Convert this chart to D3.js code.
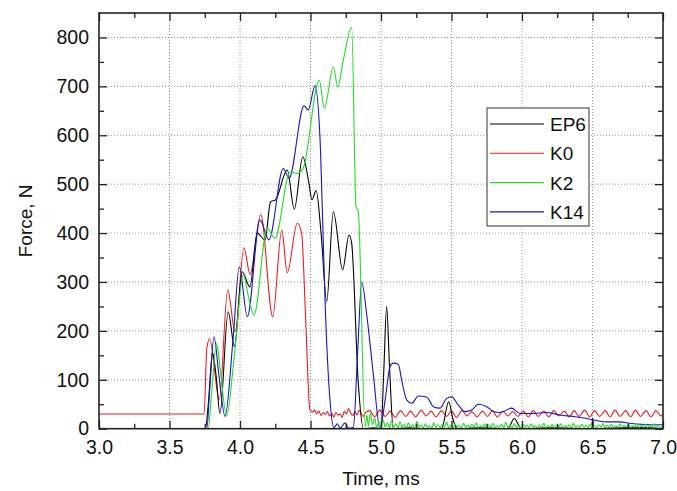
<!DOCTYPE html>
<html><head><meta charset="utf-8">
<script src="https://cdn.jsdelivr.net/npm/d3@7"></script>
<style>
body{margin:0;background:#fff;}
text{font-family:"Liberation Sans",Arial,Helvetica,sans-serif;}
</style></head>
<body><svg id="chart" width="677" height="491"></svg>
<script>
// ---- data ----
const seriesNames = ["EP6","K0","K2","K14"];
const seriesColors = ["#000000","#ee1c1c","#22dd22","#1414cc"];
const xTicks = [3.0,3.5,4.0,4.5,5.0,5.5,6.0,6.5,7.0];
const yTicks = [0,100,200,300,400,500,600,700,800];

const ep6 = [[3.0,0],[3.755,0],[3.775,50],[3.805,155],[3.83,110],[3.858,31],[3.916,239],[3.961,168],
 [4.015,321],[4.07,290],[4.122,400],[4.177,386],[4.217,464],[4.252,468],[4.335,529],[4.385,449],
 [4.445,556],[4.49,500],[4.51,468],[4.54,487],[4.575,400],[4.615,260],[4.662,444],[4.728,325],
 [4.773,396],[4.792,379],[4.839,93],[4.875,0],[4.95,2],[5.0,0],[5.02,120],[5.04,250],[5.06,130],
 [5.087,0],[5.2,2],[5.3,0],[5.43,0],[5.48,55],[5.51,20],[5.54,0],[5.7,2],[5.9,0],[5.945,21],
 [5.995,0],[6.2,2],[6.495,0],[6.5,22],[6.505,0],[6.8,3],[7.0,0]];

const k0 = [[3.0,30],[3.745,30],[3.765,165],[3.785,184],[3.853,59],[3.913,284],[3.965,198],[4.028,370],
 [4.071,316],[4.147,438],[4.232,229],[4.296,406],[4.335,319],[4.406,420],[4.437,400],[4.465,230],
 [4.495,40],[4.515,34],[4.53,38],[4.545,30],[4.56,36],[4.575,27],[4.59,33],[4.605,29],[4.62,35],
 [4.635,26],[4.65,31],[4.665,24],[4.68,33],[4.695,28],[4.71,30],[4.725,23],[4.74,36],[4.755,30],
 [4.77,41],[4.785,32],[4.80,27],[4.815,35],[4.83,28],[4.845,38],[4.86,31],[4.875,25],[4.89,33],
 [4.92,37],[4.955,24],[4.99,38],[5.03,25],[5.065,36],[5.10,23],[5.14,37],[5.175,25],[5.21,36],
 [5.245,24],[5.285,38],[5.32,26],[5.355,36],[5.39,24],[5.43,37],[5.465,25],[5.50,36],[5.535,23],
 [5.575,37],[5.61,26],[5.645,35],[5.68,24],[5.72,36],[5.755,25],[5.79,37],[5.825,24],[5.865,36],
 [5.90,26],[5.935,35],[5.97,25],[6.01,36],[6.045,24],[6.08,37],[6.115,25],[6.155,36],[6.19,24],
 [6.225,37],[6.26,26],[6.30,36],[6.335,24],[6.37,37],[6.405,25],[6.445,38],[6.48,24],[6.515,37],
 [6.55,25],[6.59,37],[6.625,24],[6.66,38],[6.695,25],[6.735,37],[6.77,24],[6.805,38],[6.84,25],
 [6.88,37],[6.915,24],[6.95,37],[6.985,26],[7.0,30]];

const k2 = [[3.0,0],[3.775,0],[3.80,80],[3.834,174],[3.86,120],[3.905,26],[3.96,150],[4.023,315],
 [4.06,270],[4.099,232],[4.193,410],[4.248,389],[4.355,525],[4.409,522],[4.449,533],[4.562,713],
 [4.598,655],[4.662,740],[4.693,699],[4.733,754],[4.792,821],[4.823,454],[4.839,444],[4.887,4],
 [4.90,28],[4.91,5],[4.925,32],[4.94,8],[4.955,22],[4.97,2],[4.985,14],[5.0,3],[5.015,18],[5.03,4],
 [5.045,12],[5.06,2],[5.075,16],[5.09,3],[5.105,10],[5.12,2],[5.135,14],[5.15,4],[5.165,9],[5.18,2],
 [5.195,12],[5.21,3],[5.225,8],[5.24,2],[5.255,15],[5.27,3],[5.285,7],[5.30,2],[5.315,10],[5.33,3],
 [5.345,6],[5.36,2],[5.375,12],[5.39,3],[5.405,8],[5.42,2],[5.435,9],[5.45,3],[5.465,14],[5.48,2],
 [5.495,7],[5.51,2],[5.525,10],[5.54,3],[5.555,6],[5.57,2],[5.585,11],[5.60,3],[5.615,7],[5.63,2],
 [5.645,9],[5.66,3],[5.675,12],[5.69,2],[5.705,6],[5.72,3],[5.735,10],[5.75,2],[5.765,8],[5.78,3],
 [5.795,11],[5.81,2],[5.825,6],[5.84,3],[5.855,9],[5.87,2],[5.885,13],[5.90,3],[5.915,7],[5.93,2],
 [5.945,10],[5.96,3],[5.975,6],[5.99,2],[6.005,9],[6.02,3],[6.035,7],[6.05,2],[6.065,10],[6.08,3],
 [6.095,6],[6.11,2],[6.125,8],[6.14,3],[6.155,11],[6.17,2],[6.185,6],[6.20,3],[6.215,9],[6.23,2],
 [6.245,7],[6.26,3],[6.275,10],[6.29,2],[6.305,6],[6.32,3],[6.335,8],[6.35,2],[6.365,11],[6.38,3],
 [6.395,6],[6.41,2],[6.425,9],[6.44,3],[6.455,7],[6.47,2],[6.485,10],[6.50,3],[6.515,6],[6.53,2],
 [6.545,8],[6.56,3],[6.575,11],[6.59,2],[6.605,7],[6.62,3],[6.635,9],[6.65,2],[6.665,6],[6.68,3],
 [6.695,10],[6.71,2],[6.725,7],[6.74,3],[6.755,9],[6.77,2],[6.785,6],[6.80,3],[6.815,11],[6.83,2],
 [6.845,7],[6.86,3],[6.875,9],[6.89,2],[6.905,6],[6.92,3],[6.935,10],[6.95,2],[6.965,7],[6.98,3],[7.0,5]];

const k14 = [[3.0,0],[3.765,0],[3.785,80],[3.816,188],[3.85,110],[3.894,25],[3.95,180],[3.995,331],
 [4.052,229],[4.142,427],[4.205,386],[4.307,532],[4.348,512],[4.454,660],[4.484,652],[4.532,701],
 [4.567,597],[4.582,467],[4.603,263],[4.638,59],[4.667,2],[4.69,10],[4.71,1],[4.745,12],[4.77,1],
 [4.804,3],[4.835,160],[4.863,300],[4.9,230],[4.945,113],[4.993,0],[5.03,60],[5.064,127],[5.087,134],
 [5.123,132],[5.146,100],[5.182,59],[5.218,52],[5.265,67],[5.324,65],[5.371,45],[5.418,42],[5.466,62],
 [5.501,65],[5.548,48],[5.596,35],[5.643,38],[5.69,50],[5.75,45],[5.797,35],[5.844,33],[5.927,42],
 [5.986,31],[6.08,31],[6.175,33],[6.27,28],[6.364,25],[6.458,21],[6.505,18],[6.6,14],[6.695,14],
 [6.766,11],[6.908,8],[7.0,8]];

const allSeries = [ep6,k0,k2,k14];

// ---- chart ----
const svg = d3.select("#chart");
const L=99, R=663, T=13, B=428.7;
const x = d3.scaleLinear().domain([3,7]).range([L,R]);
const y = d3.scaleLinear().domain([0,850]).range([B,T]);
const xMinor = d3.range(3.25,7,0.5);
const yMinor = d3.range(50,850,100);

// grid
const grid = svg.append("g").attr("stroke","#9a9a9a").attr("stroke-width",1).attr("stroke-dasharray","1,2");
xTicks.filter(v=>v>3&&v<7).forEach(v=>grid.append("line").attr("x1",x(v)).attr("x2",x(v)).attr("y1",T).attr("y2",B));
yTicks.filter(v=>v>0).forEach(v=>grid.append("line").attr("x1",L).attr("x2",R).attr("y1",y(v)).attr("y2",y(v)));

// lines
svg.append("clipPath").attr("id","clip").append("rect").attr("x",L).attr("y",T).attr("width",R-L).attr("height",B-T);
const line = d3.line().x(d=>x(d[0])).y(d=>y(d[1])).curve(d3.curveMonotoneX);
const order = [1,0,3,2];
order.forEach(i=>{
  svg.append("path").attr("clip-path","url(#clip)").attr("d",line(allSeries[i]))
    .attr("fill","none").attr("stroke",seriesColors[i]).attr("stroke-width",1.1);
});

// axes
const fs = "19.5px";
function styleAxis(g){ g.select(".domain").remove(); g.selectAll("line").attr("stroke","#222").attr("stroke-width",1.3); g.selectAll("text").attr("font-size",fs).attr("fill","#111"); }
svg.append("g").attr("transform",`translate(0,${B})`).call(d3.axisBottom(x).tickValues(xTicks).tickSize(-8).tickPadding(11).tickFormat(d3.format(".1f"))).call(styleAxis);
svg.append("g").attr("transform",`translate(0,${B})`).call(d3.axisBottom(x).tickValues(xMinor).tickSize(-5).tickFormat("")).call(styleAxis);
svg.append("g").attr("transform",`translate(0,${T})`).call(d3.axisTop(x).tickValues(xTicks).tickSize(-8).tickFormat("")).call(styleAxis);
svg.append("g").attr("transform",`translate(0,${T})`).call(d3.axisTop(x).tickValues(xMinor).tickSize(-5).tickFormat("")).call(styleAxis);
svg.append("g").attr("transform",`translate(${L},0)`).call(d3.axisLeft(y).tickValues(yTicks).tickSize(-8).tickPadding(10).tickFormat(d3.format("d"))).call(styleAxis);
svg.append("g").attr("transform",`translate(${L},0)`).call(d3.axisLeft(y).tickValues(yMinor).tickSize(-5).tickFormat("")).call(styleAxis);
svg.append("g").attr("transform",`translate(${R},0)`).call(d3.axisRight(y).tickValues(yTicks).tickSize(-8).tickFormat("")).call(styleAxis);
svg.append("g").attr("transform",`translate(${R},0)`).call(d3.axisRight(y).tickValues(yMinor).tickSize(-5).tickFormat("")).call(styleAxis);

// frame
svg.append("rect").attr("x",L).attr("y",T).attr("width",R-L).attr("height",B-T).attr("fill","none").attr("stroke","#222").attr("stroke-width",1.6);

// titles
svg.append("text").attr("x",(L+R)/2).attr("y",485).attr("text-anchor","middle").attr("font-size","19px").attr("fill","#111").text("Time, ms");
svg.append("text").attr("transform",`translate(32,${(T+B)/2}) rotate(-90)`).attr("text-anchor","middle").attr("font-size","19px").attr("fill","#111").text("Force, N");

// legend
const lg = svg.append("g");
lg.append("rect").attr("x",487).attr("y",108).attr("width",102).attr("height",118).attr("fill","#fff").attr("stroke","#555").attr("stroke-width",1.2);
seriesNames.forEach((n,i)=>{
  const yy = 124 + i*29.3;
  lg.append("line").attr("x1",490).attr("x2",544).attr("y1",yy).attr("y2",yy).attr("stroke",seriesColors[i]).attr("stroke-width",1.1);
  lg.append("text").attr("x",550).attr("y",yy+7).attr("font-size","19px").attr("fill","#111").text(n);
});
</script></body></html>
